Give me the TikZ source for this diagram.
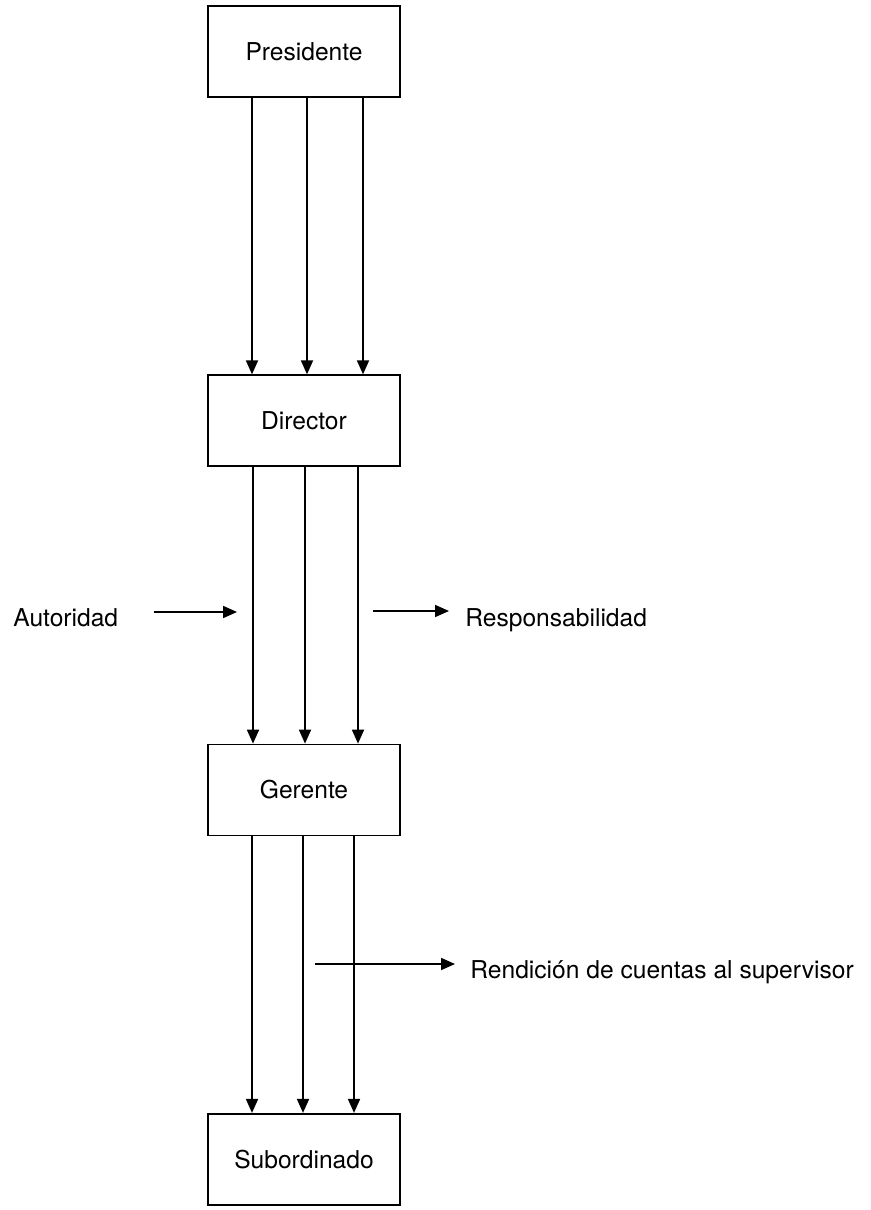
\documentclass[tikz,border=0pt]{standalone}
\usepackage{fontspec}
\setmainfont{TeX Gyre Heros}
\usetikzlibrary{positioning,arrows.meta}

\tikzset{
  caja/.style={draw, line width=1pt, minimum width=3.84cm, minimum height=1.82cm, font=\fontsize{14}{17}\selectfont},
  flecha/.style={line width=1pt, -{Triangle[length=0.28cm,width=0.24cm]}},
  rotulo/.style={font=\fontsize{14}{17}\selectfont, inner sep=0pt}
}

\begin{document}
\begin{tikzpicture}
\useasboundingbox (0,0) rectangle (17.42,-24.2);

\node[caja] (pres) at (6.08,-1.03) {Presidente};
\node[caja, below=5.53cm of pres] (dir) {Director};
\node[caja, below=5.53cm of dir] (ger) {Gerente};
\node[caja, below=5.53cm of ger] (sub) {Subordinado};

\foreach \d in {-1.04,0.06,1.18}
  \draw[flecha] ([xshift=\d cm]pres.south) -- ([xshift=\d cm]dir.north);
\foreach \d in {-1.02,0.02,1.08}
  \draw[flecha] ([xshift=\d cm]dir.south) -- ([xshift=\d cm]ger.north);
\foreach \d in {-1.04,-0.02,1.0}
  \draw[flecha] ([xshift=\d cm]ger.south) -- ([xshift=\d cm]sub.north);

\node[rotulo, anchor=base west] (aut) at (0.26,-12.52) {Autoridad};
\coordinate (autfin) at (4.74,-12.24);
\draw[flecha] (aut.east |- autfin) ++(0.7,0) -- (autfin);

\coordinate (respini) at (7.46,-12.22);
\node[rotulo, anchor=base west] (resp) at (9.3,-12.52) {Responsabilidad};
\draw[flecha] (respini) -- ([xshift=-0.32cm]respini -| resp.west);

\coordinate (rendini) at (6.3,-19.28);
\node[rotulo, anchor=base west] (rend) at (9.4,-19.56) {Rendición de cuentas al supervisor};
\draw[flecha] (rendini) -- ([xshift=-0.3cm]rendini -| rend.west);

\end{tikzpicture}
\end{document}
